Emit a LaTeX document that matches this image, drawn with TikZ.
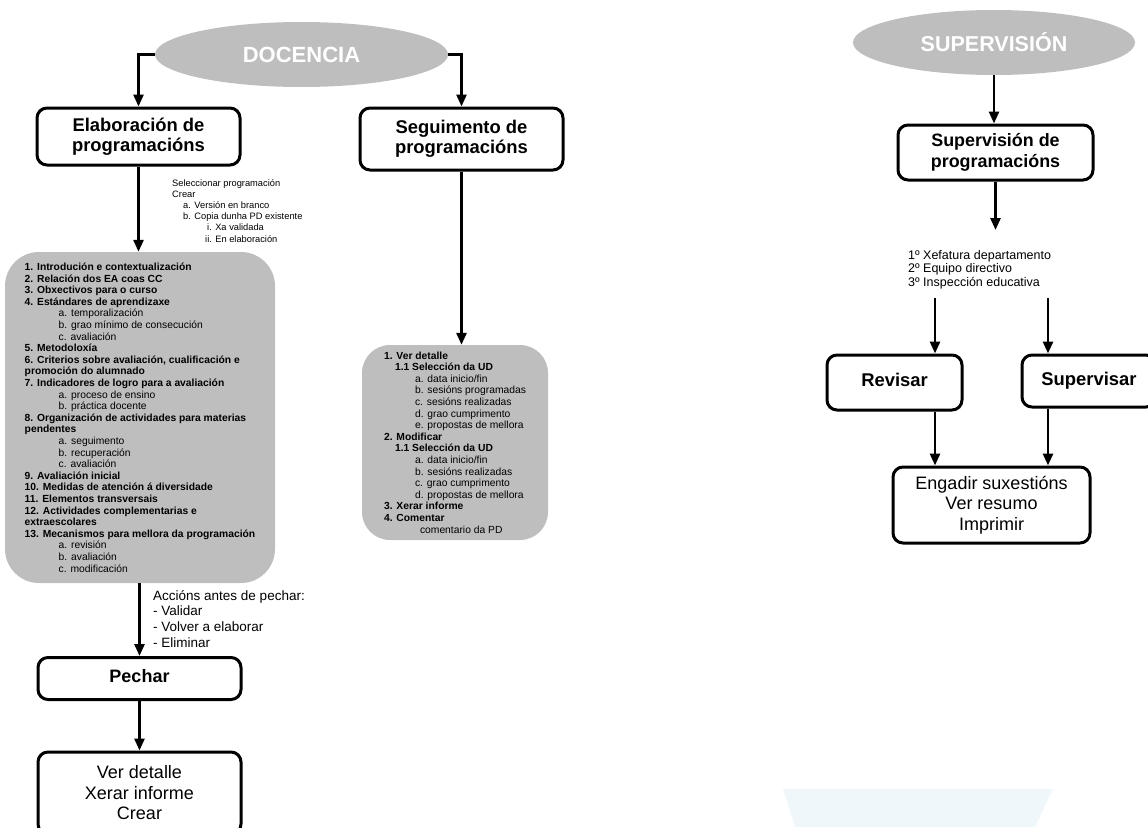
\documentclass[tikz,border=0pt]{standalone}
\usepackage{fontspec}
\setmainfont{Liberation Sans}
\usetikzlibrary{arrows.meta,shapes.geometric}
\definecolor{G}{RGB}{190,190,190}
\definecolor{F}{RGB}{240,247,250}
\newcommand{\drawarrow}{\draw[line width=2.7pt,-{Triangle[length=12pt,width=10pt]}]}
\newcommand{\sang}[2]{\hspace*{#1pt}#2}
\tikzset{
  elipse/.style={ellipse,fill=G,text=white,inner sep=0pt,font=\bfseries\fontsize{22}{26}\selectfont},
  caixa/.style={draw,line width=3pt,rounded corners=10pt,align=center,inner sep=0pt,font=\bfseries\fontsize{18.4}{20.5}\selectfont},
  caixaun/.style={caixa,execute at begin node=\strut},
  caixatexto/.style={caixa,font=\fontsize{18}{20.5}\selectfont},
  gris/.style={fill=G,rounded corners=34pt,align=left,inner sep=0pt,font=\fontsize{10.3}{11.6}\selectfont},
  nota/.style={anchor=north west,align=left,inner sep=0pt}
}
\begin{document}
\begin{tikzpicture}[x=1pt,y=-1pt]
\useasboundingbox (0,0) rectangle (1148,827);
\fill[F] (783,789)--(1053,789)--(1035,827)--(795,827)--cycle;
% docencia
\node[elipse,minimum width=293,minimum height=65] (doc) at (301.5,54.5) {DOCENCIA};
\node[caixa,minimum width=203,minimum height=57] (elab) at (138.5,136.5) {Elaboración de\\programacións};
\node[caixa,minimum width=203,minimum height=62] (seg) at (461.5,139) {Seguimento de\\programacións};
\node[nota,font=\fontsize{9.3}{11.2}\selectfont] (sel) at (172,179) {Seleccionar programación\\Crear\\\sang{11}{a. Versión en branco}\\\sang{11}{b. Copia dunha PD existente}\\\sang{35}{i. Xa validada}\\\sang{33}{ii. En elaboración}};
\node[gris,minimum width=270,minimum height=331] (estr) at (140,417.5) {%
\textbf{1. Introdución e contextualización}\\
\textbf{2. Relación dos EA coas CC}\\
\textbf{3. Obxectivos para o curso}\\
\textbf{4. Estándares de aprendizaxe}\\
\sang{34}{a. temporalización}\\
\sang{34}{b. grao mínimo de consecución}\\
\sang{34}{c. avaliación}\\
\textbf{5. Metodoloxía}\\
\textbf{6. Criterios sobre avaliación, cualificación e}\\
\textbf{promoción do alumnado}\\
\textbf{7. Indicadores de logro para a avaliación}\\
\sang{34}{a. proceso de ensino}\\
\sang{34}{b. práctica docente}\\
\textbf{8. Organización de actividades para materias}\\
\textbf{pendentes}\\
\sang{34}{a. seguimento}\\
\sang{34}{b. recuperación}\\
\sang{34}{c. avaliación}\\
\textbf{9. Avaliación inicial}\\
\textbf{10. Medidas de atención á diversidade}\\
\textbf{11. Elementos transversais}\\
\textbf{12. Actividades complementarias e}\\
\textbf{extraescolares}\\
\textbf{13. Mecanismos para mellora da programación}\\
\sang{34}{a. revisión}\\
\sang{34}{b. avaliación}\\
\sang{34}{c. modificación}};
\node[gris,rounded corners=28pt,minimum width=186,minimum height=195] (pdseg) at (455,442.5) {%
\textbf{1. Ver detalle}\\
\sang{11}{\textbf{1.1 Selección da UD}}\\
\sang{31}{a. data inicio/fin}\\
\sang{31}{b. sesións programadas}\\
\sang{31}{c. sesións realizadas}\\
\sang{31}{d. grao cumprimento}\\
\sang{31}{e. propostas de mellora}\\
\textbf{2. Modificar}\\
\sang{11}{\textbf{1.1 Selección da UD}}\\
\sang{31}{a. data inicio/fin}\\
\sang{31}{b. sesións realizadas}\\
\sang{31}{c. grao cumprimento}\\
\sang{31}{d. propostas de mellora}\\
\textbf{3. Xerar informe}\\
\textbf{4. Comentar}\\
\sang{36}{comentario da PD}};
\node[nota,font=\fontsize{13.5}{15.7}\selectfont] (accions) at (153,590) {Accións antes de pechar:\\- Validar\\- Volver a elaborar\\- Eliminar};
\node[caixaun,minimum width=203,minimum height=42,font=\bfseries\fontsize{18}{20.5}\selectfont] (pech) at (139.5,678.5) {Pechar};
\node[caixatexto,minimum width=203,minimum height=82] (final) at (139.5,793) {Ver detalle\\Xerar informe\\Crear};
\drawarrow (doc.west) -| (elab.north);
\drawarrow (doc.east) -| (seg.north);
\drawarrow (elab.south) -- (elab.south |- estr.north);
\drawarrow (seg.south) -- (seg.south |- pdseg.north);
\drawarrow (pech.north |- estr.south) -- (pech.north);
\drawarrow (pech.south) -- (final.north);
% supervision
\node[elipse,minimum width=282,minimum height=65,font=\bfseries\fontsize{21.5}{26}\selectfont] (sup) at (994,42.5) {SUPERVISIÓN};
\node[caixa,minimum width=195,minimum height=55,font=\bfseries\fontsize{17.9}{20.5}\selectfont] (supprog) at (995.5,152.5) {Supervisión de\\programacións};
\node[nota,font=\fontsize{12.5}{13.5}\selectfont] (orde) at (908,250) {1º Xefatura departamento\\2º Equipo directivo\\3º Inspección educativa};
\coordinate (rv) at (935,298);
\coordinate (sv) at (1048,298);
\node[caixaun,minimum width=135,minimum height=55] (rev) at (894.5,382.5) {Revisar};
\node[caixaun,minimum width=134,minimum height=52] (supv) at (1089,381) {Supervisar};
\node[caixatexto,minimum width=197,minimum height=76] (eng) at (991.5,505) {Engadir suxestións\\Ver resumo\\Imprimir};
\drawarrow (sup.south) -- (sup.south |- supprog.north);
\drawarrow[shorten >=20pt] (supprog.south) -- (supprog.south |- orde.north);
\drawarrow (rv) -- (rv |- rev.north);
\drawarrow (sv) -- (sv |- supv.north);
\drawarrow (rv |- rev.south) -- (rv |- eng.north);
\drawarrow (sv |- supv.south) -- (sv |- eng.north);
\end{tikzpicture}
\end{document}
